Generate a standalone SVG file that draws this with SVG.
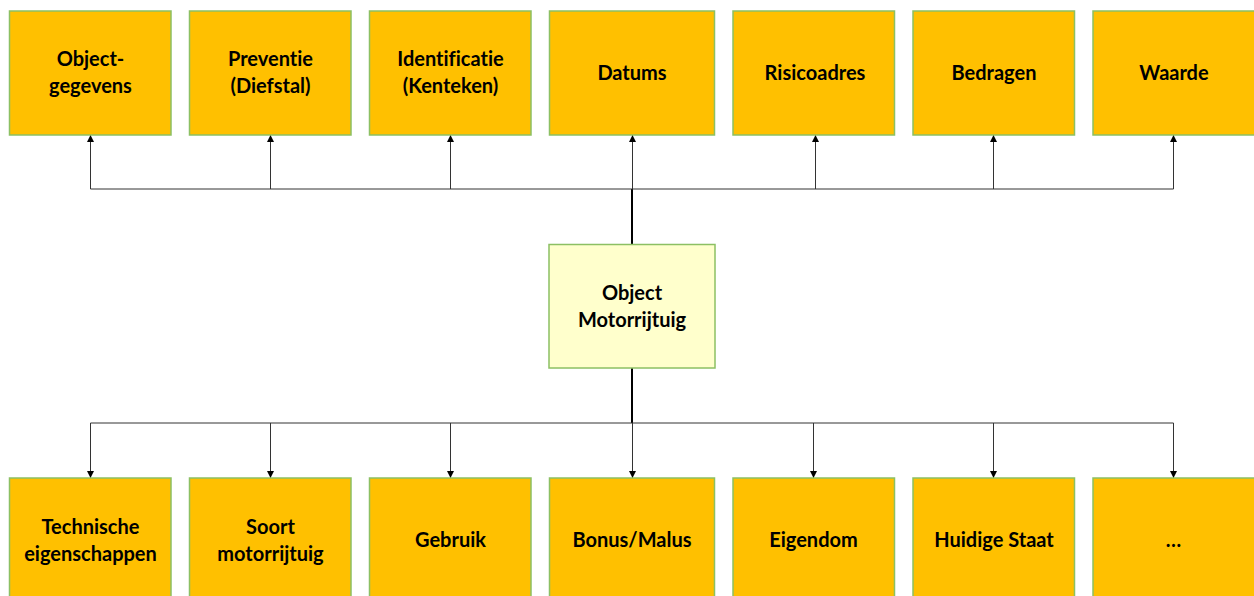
<svg xmlns="http://www.w3.org/2000/svg" width="1254" height="596" viewBox="0 0 1254 596">
<style>
.box{fill:#FFC000;stroke:#8CC063;stroke-width:1.5}
.center{fill:#FFFFCC;stroke:#8CC063;stroke-width:1.5}
.t{font-family:Lato,"Open Sans","Liberation Sans",sans-serif;font-weight:bold;font-size:20px;fill:#000;text-anchor:middle;font-variant-ligatures:none}
.c{stroke:#333;stroke-width:1;fill:none}
.trunk{stroke:#000;stroke-width:2;fill:none}
</style>
<defs>
<marker id="ah" viewBox="0 0 10 10" refX="10" refY="5" markerWidth="7" markerHeight="7" markerUnits="userSpaceOnUse" orient="auto">
<path d="M0,0 L10,5 L0,10 z" fill="#000"/>
</marker>
</defs>
<rect width="1254" height="596" fill="#fff"/>
<g id="connectors">
<path class="trunk" d="M632,189 V244 M632,368 V423"/>
<path class="c" d="M90.5,189 H1173.5 M90.5,423 H1173.5"/>
<path class="c" marker-end="url(#ah)" d="M90.5,189 V135"/>
<path class="c" marker-end="url(#ah)" d="M270.5,189 V135"/>
<path class="c" marker-end="url(#ah)" d="M450.5,189 V135"/>
<path class="c" marker-end="url(#ah)" d="M632.5,189 V135"/>
<path class="c" marker-end="url(#ah)" d="M815.5,189 V135"/>
<path class="c" marker-end="url(#ah)" d="M993.5,189 V135"/>
<path class="c" marker-end="url(#ah)" d="M1173.5,189 V135"/>
<path class="c" marker-end="url(#ah)" d="M90.5,423 V478"/>
<path class="c" marker-end="url(#ah)" d="M270.5,423 V478"/>
<path class="c" marker-end="url(#ah)" d="M450.5,423 V478"/>
<path class="c" marker-end="url(#ah)" d="M632.5,423 V478"/>
<path class="c" marker-end="url(#ah)" d="M813.5,423 V478"/>
<path class="c" marker-end="url(#ah)" d="M993.5,423 V478"/>
<path class="c" marker-end="url(#ah)" d="M1173.5,423 V478"/>
</g>
<g id="center">
<rect class="center" x="549" y="244.5" width="166" height="123.5"/>
<text class="t" x="632" y="300">Object</text>
<text class="t" x="632" y="327">Motorrijtuig</text>
</g>
<g id="n-objectgegevens">
<rect class="box" x="9.5" y="11" width="161.5" height="124"/>
<text class="t" x="90.5" y="66">Object-</text>
<text class="t" x="90.5" y="93">gegevens</text>
</g>
<g id="n-preventie">
<rect class="box" x="189.5" y="11" width="161.5" height="124"/>
<text class="t" x="270.5" y="66">Preventie</text>
<text class="t" x="270.5" y="93">(Diefstal)</text>
</g>
<g id="n-identificatie">
<rect class="box" x="369.5" y="11" width="161.5" height="124"/>
<text class="t" x="450.5" y="66">Identificatie</text>
<text class="t" x="450.5" y="93">(Kenteken)</text>
</g>
<g id="n-datums">
<rect class="box" x="549.5" y="11" width="165" height="124"/>
<text class="t" x="632" y="80">Datums</text>
</g>
<g id="n-risicoadres">
<rect class="box" x="733" y="11" width="161.5" height="124"/>
<text class="t" x="815" y="80">Risicoadres</text>
</g>
<g id="n-bedragen">
<rect class="box" x="913" y="11" width="161.5" height="124"/>
<text class="t" x="994" y="80">Bedragen</text>
</g>
<g id="n-waarde">
<rect class="box" x="1093" y="11" width="170" height="124"/>
<text class="t" x="1174" y="80">Waarde</text>
</g>
<g id="n-technische">
<rect class="box" x="9.5" y="478" width="161.5" height="130"/>
<text class="t" x="90.5" y="534">Technische</text>
<text class="t" x="90.5" y="561">eigenschappen</text>
</g>
<g id="n-soort">
<rect class="box" x="189.5" y="478" width="161.5" height="130"/>
<text class="t" x="270.5" y="534">Soort</text>
<text class="t" x="270.5" y="561">motorrijtuig</text>
</g>
<g id="n-gebruik">
<rect class="box" x="369.5" y="478" width="161.5" height="130"/>
<text class="t" x="450.5" y="547">Gebruik</text>
</g>
<g id="n-bonusmalus">
<rect class="box" x="549.5" y="478" width="165" height="130"/>
<text class="t" x="632" y="547">Bonus/Malus</text>
</g>
<g id="n-eigendom">
<rect class="box" x="733" y="478" width="161.5" height="130"/>
<text class="t" x="813.5" y="547">Eigendom</text>
</g>
<g id="n-huidigestaat">
<rect class="box" x="913" y="478" width="161.5" height="130"/>
<text class="t" x="994" y="547">Huidige Staat</text>
</g>
<g id="n-more">
<rect class="box" x="1093" y="478" width="170" height="130"/>
<text class="t" x="1173.5" y="547">…</text>
</g>
</svg>
